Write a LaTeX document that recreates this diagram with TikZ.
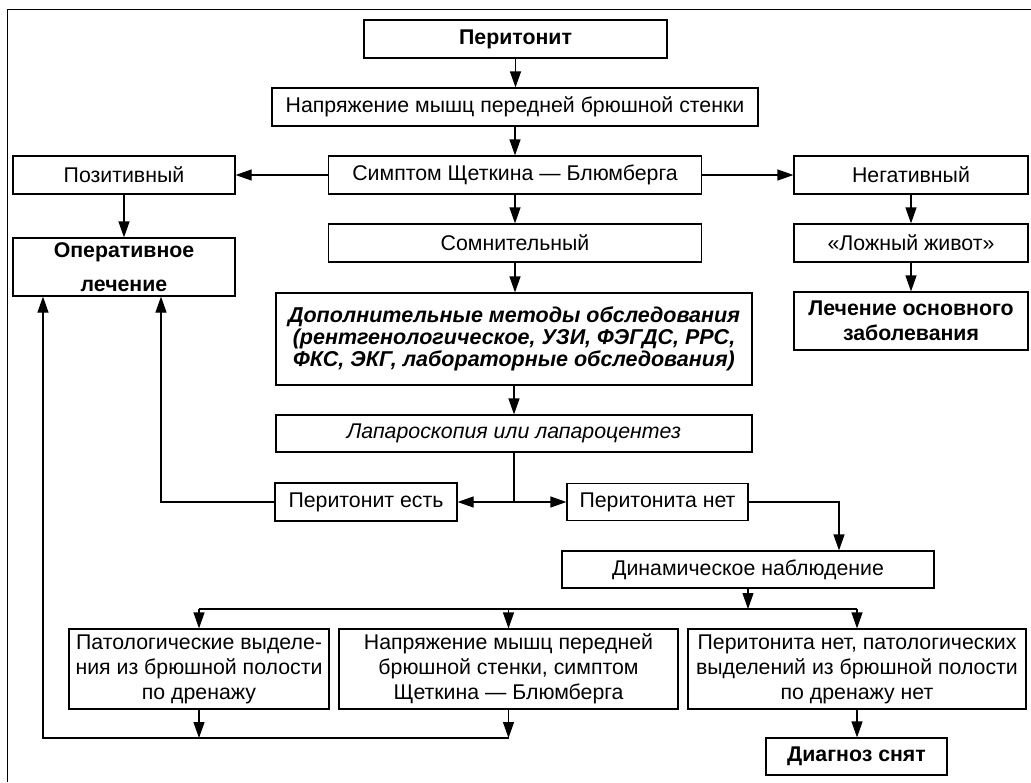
\documentclass[tikz,border=0pt]{standalone}
\usepackage{fontspec}
\setmainfont{Liberation Sans}
\usetikzlibrary{arrows.meta}

\begin{document}
\begin{tikzpicture}[x=1pt, y=-1pt,
        blk/.style={draw, line width=1.2pt, inner sep=0pt, align=center,
            font=\fontsize{21.3}{25}\selectfont},
        arr/.style={line width=1.2pt, -{Triangle[length=16pt, width=11pt]}},
        ln/.style={line width=1.2pt}]
        \useasboundingbox (0,0) rectangle (1031,782);
        \draw[line width=0.8pt] (7,782) -- (7,9) -- (1031,9);

        % top column
        \node[blk, minimum width=303, minimum height=38] (perit) at (515.5,39) {\bfseries Перитонит};
        \node[blk, minimum width=486, minimum height=38] (napr) at (515,107) {Напряжение мышц передней брюшной стенки};
        \node[blk, minimum width=373, minimum height=38] (simpt) at (515,175) {Симптом Щеткина — Блюмберга};
        \node[blk, minimum width=222, minimum height=38] (pozit) at (124,175) {Позитивный};
        \node[blk, minimum width=234, minimum height=38] (negat) at (911,175) {Негативный};
        \node[blk, minimum width=373, minimum height=38] (somn) at (515,243) {Сомнительный};
        \node[blk, minimum width=234, minimum height=38] (lozh) at (911,243) {«Ложный живот»};
        \node[blk, minimum width=222, minimum height=58, font=\fontsize{21.3}{34}\selectfont\bfseries] (oper) at (124,267) {Оперативное\\лечение};
        \node[blk, minimum width=234, minimum height=58, font=\fontsize{21.3}{25}\selectfont\bfseries] (lech) at (911,321) {Лечение основного\\заболевания};
        \node[blk, minimum width=476, minimum height=92, font=\fontsize{21.5}{21.7}\selectfont\bfseries\itshape] (dopol) at (514,339)
            {Дополнительные методы обследования\\(рентгенологическое, УЗИ, ФЭГДС, РРС,\\ФКС, ЭКГ, лабораторные обследования)};
        \node[blk, minimum width=476, minimum height=37] (lapar) at (514,433.5) {\itshape Лапароскопия или лапароцентез};
        \node[blk, minimum width=182, minimum height=38] (estj) at (366,502) {Перитонит есть};
        \node[blk, minimum width=181, minimum height=37] (net) at (657.5,502) {Перитонита нет};
        \node[blk, minimum width=372, minimum height=37] (dinam) at (748,569.5) {Динамическое наблюдение};

        % bottom row
        \node[blk, minimum width=260, minimum height=80] (patol) at (199,669) {Патологические выделе-\\ния из брюшной полости\\по дренажу};
        \node[blk, minimum width=339, minimum height=80] (naprs) at (508.5,669) {Напряжение мышц передней\\брюшной стенки, симптом\\Щеткина — Блюмберга};
        \node[blk, minimum width=338, minimum height=80] (netpat) at (857,669) {Перитонита нет, патологических\\выделений из брюшной полости\\по дренажу нет};
        \node[blk, minimum width=181, minimum height=37] (diag) at (856.5,756.5) {\bfseries Диагноз снят};

        \coordinate (split) at (514,502);
        \coordinate (br) at (748,609);
        \coordinate (lp) at (43,738);

        \foreach \a/\b in {perit/napr, napr/simpt, simpt/somn, somn/dopol, dopol/lapar, pozit/oper, negat/lozh, lozh/lech, netpat/diag}
            \draw[arr] (\a.south) -- (\a.south |- \b.north);
        \draw[arr] (simpt) -- (pozit);
        \draw[arr] (simpt) -- (negat);

        \draw[ln] (lapar.south) -- (split);
        \draw[arr] (split) -- (estj);
        \draw[arr] (split) -- (net);
        \draw[arr] (estj) -| ([xshift=37pt]oper.south);
        \draw[arr] (net) -| ([xshift=91pt]dinam.north);

        \draw[arr] (dinam) -- (br);
        \draw[ln] (patol.north |- br) -- (netpat.north |- br);
        \foreach \n in {patol, naprs, netpat}
            \draw[arr] (\n.north |- br) -- (\n.north);

        \foreach \n in {patol, naprs}
            \draw[arr] (\n.south) -- (\n.south |- lp);
        \draw[arr] (naprs.south |- lp) -- (lp) -- (lp |- oper.south);
\end{tikzpicture}
\end{document}
